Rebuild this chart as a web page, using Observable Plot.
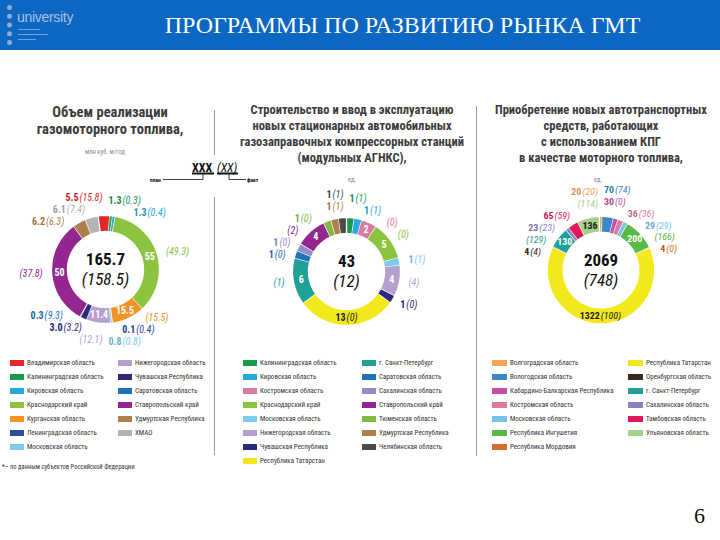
<!DOCTYPE html>
<html><head><meta charset="utf-8">
<script src="https://cdn.jsdelivr.net/npm/d3@7"></script>
<script src="https://cdn.jsdelivr.net/npm/@observablehq/plot@0.6"></script>
<style>
body{margin:0;background:#fff;}
#page{position:relative;width:720px;height:540px;overflow:hidden;background:#fff;
 font-family:"Liberation Sans Narrow","Roboto Condensed","DejaVu Sans Condensed","Arial Narrow","Liberation Sans",sans-serif;}
#header{position:absolute;left:0;top:0;width:720px;height:50px;background:#0b67c2;}
#title{position:absolute;left:85px;width:635px;top:0;height:50px;line-height:50px;text-align:center;color:#fff;
 font-family:"Liberation Serif","DejaVu Serif",serif;font-size:24px;white-space:nowrap;}
#logo-dots{position:absolute;left:7px;top:5px;width:0;height:40px;border-left:5px dotted #8eabd8;}
#logo-text{position:absolute;left:17px;top:9px;font-family:"Liberation Sans",sans-serif;font-size:14px;color:#a9c0e4;letter-spacing:-0.3px;}
.logo-line{position:absolute;left:18px;height:1px;background:#7f9fd3;}
.ctitle{position:absolute;text-align:center;font-weight:bold;color:#3b3b3b;white-space:nowrap;}
.unit{position:absolute;font-size:6.5px;color:#8a8a8a;text-align:center;}
.sep{position:absolute;width:0;border-left:1px solid #9a9a9a;}
.lg{position:absolute;font-size:7px;color:#333;white-space:nowrap;line-height:8px;}
.sw{position:absolute;height:6px;}
.donut{position:absolute;}
#pnum{position:absolute;left:694px;top:503px;font-family:"Liberation Serif","DejaVu Serif",serif;font-size:22px;color:#111;}
#foot{position:absolute;left:2px;top:463px;font-size:6.5px;color:#333;white-space:nowrap;}
</style>
</head><body>
<div id="page">
 <div id="header">
  <div id="logo-dots"></div>
  <div id="logo-text">university</div>
  <div class="logo-line" style="top:29px;width:22px"></div>
  <div class="logo-line" style="top:34px;width:30px"></div>
  <div class="logo-line" style="top:39px;width:18px"></div>
  <div id="title">ПРОГРАММЫ ПО РАЗВИТИЮ РЫНКА ГМТ</div>
 </div>
 <div class="ctitle" style="left:10px;width:200px;top:104px;font-size:14.5px;line-height:17px;">Объем реализации<br>газомоторного топлива,</div>
 <div class="unit" style="left:55px;width:100px;top:148px;">млн куб. м/год</div>
 <div class="ctitle" style="left:232px;width:240px;top:102px;font-size:12.5px;line-height:16px;">Строительство и ввод в эксплуатацию<br>новых стационарных автомобильных<br>газозаправочных компрессорных станций<br>(модульных АГНКС),</div>
 <div class="unit" style="left:302px;width:100px;top:176px;">ед.</div>
 <div class="ctitle" style="left:481px;width:240px;top:102px;font-size:12.5px;line-height:16px;">Приобретение новых автотранспортных<br>средств, работающих<br>с использованием КПГ<br>в качестве моторного топлива,</div>
 <div class="unit" style="left:548px;width:100px;top:176px;">ед.</div>
 <div class="sep" style="left:214px;top:110px;height:45px;"></div>
 <div class="sep" style="left:214px;top:197px;height:258px;"></div>
 <div class="sep" style="left:476px;top:106px;height:350px;"></div>
 <svg style="position:absolute;left:0;top:0;" width="720" height="540" id="key">
  <g font-family="Liberation Sans Narrow, Roboto Condensed, Arial Narrow, Liberation Sans, sans-serif" fill="#111">
   <text x="192" y="171.5" font-size="12" font-weight="bold">XXX</text>
   <text x="217" y="171.5" font-size="12" font-style="italic">(XX)</text>
   <line x1="192" y1="173.5" x2="214" y2="173.5" stroke="#111" stroke-width="2"/>
   <line x1="217" y1="173.5" x2="238" y2="173.5" stroke="#111" stroke-width="2"/>
   <polyline points="203,174 203,179.5 163,179.5" fill="none" stroke="#111" stroke-width="0.8"/>
   <polyline points="229,174 229,179.5 246,179.5" fill="none" stroke="#111" stroke-width="0.8"/>
   <text x="150" y="181.5" font-size="5.5" font-weight="bold">план</text>
   <text x="247" y="181.5" font-size="5.5" font-weight="bold">факт</text>
  </g>
 </svg>
 <div id="d1" class="donut"></div>
 <div id="d2" class="donut"></div>
 <div id="d3" class="donut"></div>
 <div id="lg1"></div><div id="lg2"></div><div id="lg3"></div>
 <div id="foot">*– по данным субъектов Российской Федерации</div>
 <div id="pnum">6</div>
</div>
<script>
// ---------- DATA ----------
// Chart 1: объем реализации газомоторного топлива, млн куб. м/год — план (факт)
const c1Regions = ["Владимирская область","Калининградская область","Кировская область","Краснодарский край","Курганская область","Ленинградская область","Московская область","Нижегородская область","Чувашская Республика","Саратовская область","Ставропольский край","Удмуртская Республика","ХМАО"];
const c1Colors = ["#e2262a","#1a9a4b","#2aa7de","#8cc43f","#f39325","#2b4c9b","#7ccbed","#b69fce","#2b2a7a","#1d72b8","#93278f","#ae7f4c","#b3b3b3"];
const c1Plan = [5.5,1.3,1.3,55,15.5,0.1,0.8,11.4,3.0,0.3,50,6.2,6.1];
const c1Fact = [15.8,0.3,0.4,49.3,15.5,0.4,0.8,12.1,3.2,9.3,37.8,6.3,7.4];
const c1Total = "165.7", c1TotalFact = "158.5";

// Chart 2: АГНКС, ед. — план (факт)
const c2Regions = ["Калининградская область","Кировская область","Костромская область","Краснодарский край","Московская область","Нижегородская область","Чувашская Республика","Республика Татарстан","г. Санкт-Петербург","Саратовская область","Сахалинская область","Ставропольский край","Тюменская область","Удмуртская Республика","Челябинская область"];
const c2Colors = ["#1a9a4b","#2aa7de","#d97aa0","#8cc43f","#7ccbed","#b69fce","#2b2a7a","#f2e81c","#1fa197","#1d72b8","#8f8ec8","#93278f","#85b843","#ae7f4c","#4a4a4a"];
const c2Plan = [1,1,2,5,1,4,1,13,6,1,1,4,1,1,1];
const c2Fact = [1,1,0,0,1,4,0,0,1,0,0,2,0,1,1];
const c2Total = "43", c2TotalFact = "12";

// Chart 3: новые автотранспортные средства на КПГ, ед. — план (факт)
const c3Regions = ["Волгоградская область","Вологодская область","Кабардино-Балкарская Республика","Костромская область","Московская область","Республика Ингушетия","Республика Мордовия","Республика Татарстан","Оренбургская область","г. Санкт-Петербург","Сахалинская область","Тамбовская область","Ульяновская область"];
const c3Colors = ["#f7a35b","#3a87c9","#c84ea5","#d97aa0","#74c3e8","#58b947","#d66d27","#f2e81c","#3b2a1d","#1fa197","#8784c4","#e0195b","#a6d18b"];
const c3Plan = [20,70,30,36,29,200,4,1322,4,130,23,65,136];
const c3Fact = [20,74,0,36,29,166,0,100,4,129,23,59,114];
const c3Total = "2069", c3TotalFact = "748";

// ---------- DRAWING ----------
const FF = '"Liberation Sans Narrow","Roboto Condensed","DejaVu Sans Condensed","Arial Narrow","Liberation Sans",sans-serif';
const W = 240, H = 180, R = 54, RIN = 38, RL = 63, GAP = 12, MINX = 3, LFS = 10;
const ctx = document.createElement("canvas").getContext("2d");
function measure(t, style){ ctx.font = style + " " + LFS + "px " + FF; return ctx.measureText(t).width; }
function lum(c){ const q = d3.rgb(c); const f = v => { v/=255; return v<=0.03928 ? v/12.92 : Math.pow((v+0.055)/1.055,2.4); }; return 0.2126*f(q.r)+0.7152*f(q.g)+0.0722*f(q.b); }
const rad = a => a*Math.PI/180;

function donut(el, cfg){
  const {plan, fact, colors, fmt, start, total, totalFact, centerSize} = cfg;
  const sum = d3.sum(plan);
  let acc = start;
  const segs = plan.map((v,i) => { const a0 = acc, a1 = acc + v/sum*360; acc = a1;
    return {i, color: colors[i], plan: v, fact: fact[i], a0, a1, mid: (a0+a1)/2, span: a1-a0}; });
  const ring = [];
  segs.forEach(s => {
    const n = Math.max(2, Math.ceil(s.span/1.5));
    for (let k=0;k<=n;k++){ const a = rad(s.a0 + s.span*k/n); ring.push({id:s.i, color:s.color, x:R*Math.sin(a), y:-R*Math.cos(a)}); }
    for (let k=n;k>=0;k--){ const a = rad(s.a0 + s.span*k/n); ring.push({id:s.i, color:s.color, x:RIN*Math.sin(a), y:-RIN*Math.cos(a)}); }
  });
  const pRows = [], fRows = [];
  function place(x, y, anchor, p, f, cp, cf){
    const wP = p ? measure(p, "bold") : 0, wF = f ? measure(f, "italic") : 0, g = (p && f) ? 1 : 0;
    let xp;
    if (anchor === "start") xp = x; else if (anchor === "end") xp = x - wF - g - wP; else xp = x - (wP+g+wF)/2;
    if (p) pRows.push({x: xp, y, t: p, c: cp});
    if (f) fRows.push({x: xp + wP + g, y, t: f, c: cf});
  }
  const outside = [];
  segs.forEach(s => {
    const dark = lum(s.color) > 0.5;
    const p = fmt(s.plan), f = "(" + fmt(s.fact) + ")";
    if (s.span >= 15){
      const a = rad(s.mid), rm = (R+RIN)/2;
      const both = dark && s.span > 60;
      const tc = dark ? "#1a1a1a" : "#ffffff";
      place(rm*Math.sin(a), -rm*Math.cos(a), "middle", p, both ? f : "", tc, tc);
      if (!both) outside.push({s, p: "", f});
    } else outside.push({s, p, f});
  });
  outside.forEach(o => { const a = rad(o.s.mid); o.side = Math.sin(a) >= 0 ? 1 : -1; o.y = -RL*Math.cos(a); });
  [1,-1].forEach(side => {
    const items = outside.filter(o => o.side === side).sort((a,b) => a.y - b.y);
    for (let it=0; it<400; it++){
      let moved = false;
      for (let j=0;j<items.length-1;j++){
        const d = items[j+1].y - items[j].y;
        if (d < GAP - 0.01){ const m = (GAP-d)/2; items[j].y -= m; items[j+1].y += m; moved = true; }
      }
      if (!moved) break;
    }
    items.forEach(o => {
      const x = side*Math.max(MINX, Math.sqrt(Math.max(0, RL*RL - o.y*o.y)));
      const cp = d3.color(o.s.color).darker(0.35).formatHex();
      place(x, o.y, side > 0 ? "start" : "end", o.p, o.f, cp, o.s.color);
    });
  });
  const chart = Plot.plot({
    width: W, height: H, margin: 0,
    x: {domain: [-W/2, W/2], range: [0, W], axis: null},
    y: {domain: [-H/2, H/2], range: [0, H], axis: null},
    style: {fontFamily: FF, background: "transparent", overflow: "visible"},
    marks: [
      Plot.line(ring, {x: "x", y: "y", z: "id", fill: "color", stroke: "#ffffff", strokeWidth: 1.3, curve: "linear"}),
      Plot.text(pRows, {x: "x", y: "y", text: "t", fill: "c", textAnchor: "start", fontWeight: "bold", fontSize: LFS}),
      Plot.text(fRows, {x: "x", y: "y", text: "t", fill: "c", textAnchor: "start", fontStyle: "italic", fontSize: LFS}),
      Plot.text([total], {frameAnchor: "middle", dy: -10, fontSize: centerSize, fontWeight: "bold", fill: "#111"}),
      Plot.text(["(" + totalFact + ")"], {frameAnchor: "middle", dy: 10, fontSize: centerSize, fontStyle: "italic", fill: "#111"})
    ]
  });
  el.appendChild(chart);
}

function legend(el, names, colors, split, x1, x2, swW){
  names.forEach((n, i) => {
    const col = i < split ? 0 : 1, row = col ? i - split : i;
    const x = col ? x2 : x1, y = 363 + row*14;
    const sw = document.createElement("div"); sw.className = "sw";
    sw.style.cssText = `left:${x}px;top:${y-3}px;width:${swW}px;background:${colors[i]}`;
    const tx = document.createElement("div"); tx.className = "lg";
    tx.style.cssText = `left:${x+swW+3}px;top:${y-4}px;`; tx.textContent = n;
    el.appendChild(sw); el.appendChild(tx);
  });
}

const fmt1 = v => (Number.isInteger(v) && v >= 10) ? String(v) : v.toFixed(1);
const fmtI = v => String(v);
function pos(id, cx, cy){ const e = document.getElementById(id); e.style.left = (cx - W/2) + "px"; e.style.top = (cy - H/2) + "px"; return e; }

donut(pos("d1", 105, 269), {plan: c1Plan, fact: c1Fact, colors: c1Colors, fmt: fmt1, start: -8, total: c1Total, totalFact: c1TotalFact, centerSize: 17});
donut(pos("d2", 346, 271), {plan: c2Plan, fact: c2Fact, colors: c2Colors, fmt: fmtI, start: 0, total: c2Total, totalFact: c2TotalFact, centerSize: 17});
donut(pos("d3", 601, 270), {plan: c3Plan, fact: c3Fact, colors: c3Colors, fmt: fmtI, start: -2, total: c3Total, totalFact: c3TotalFact, centerSize: 17});

legend(document.getElementById("lg1"), c1Regions, c1Colors, 7, 10, 118, 14);
legend(document.getElementById("lg2"), c2Regions, c2Colors, 8, 243, 362, 14);
legend(document.getElementById("lg3"), c3Regions, c3Colors, 7, 492, 628, 15);
</script>
</body></html>
